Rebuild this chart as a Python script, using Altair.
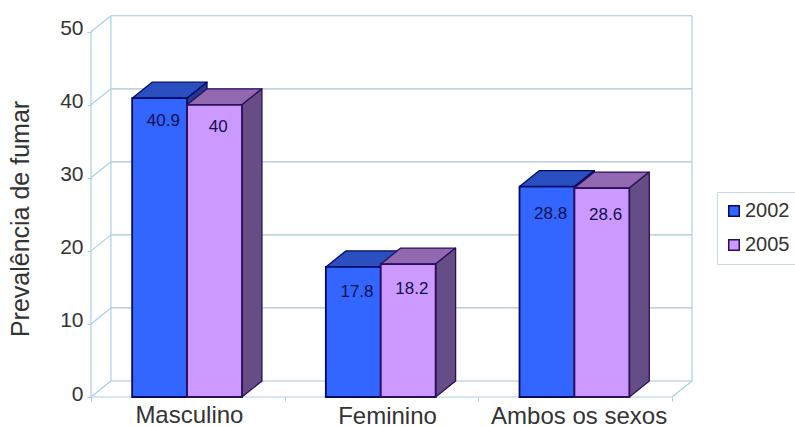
import altair as alt
import pandas as pd

# Values shown on the bars
categories = ["Masculino", "Feminino", "Ambos os sexos"]
series = ["2002", "2005"]
values_2002 = [40.9, 17.8, 28.8]
values_2005 = [40, 18.2, 28.6]
value_ticks = [0, 10, 20, 30, 40, 50]
value_title = "Prevalência de fumar"

FONT = "Liberation Sans"
TEXT = "#333333"
WALL = "#a9cfe6"
GRID = "#a8c4d4"

# Oblique projection: category units horizontally, value units vertically
BAR_W = 0.2835
DEPTH_X = 0.103
DEPTH_Y = 2.19
X_MAX = 3 + DEPTH_X
Y_MAX = 50 + DEPTH_Y + 0.1

FRONT = {"2002": "#3366ff", "2005": "#cc99ff"}
TOP = {"2002": "#2a4fc0", "2005": "#9268b0"}
SIDE = {"2002": "#26398c", "2005": "#664d85"}
EDGE = {"2002": "#000a66", "2005": "#2a0f5c"}

x_scale = alt.Scale(domain=[0, X_MAX], nice=False, zero=False)
y_scale = alt.Scale(domain=[0, Y_MAX], nice=False, zero=True)
X = alt.X("x:Q", scale=x_scale, title=None)
Y = alt.Y("y:Q", scale=y_scale, title=None)

# Tick-only axes; the category names are placed by a text layer
axes = (
    alt.Chart(pd.DataFrame({"x": [0], "y": [0]}))
    .mark_point(opacity=0)
    .encode(
        x=alt.X("x:Q", scale=x_scale, axis=alt.Axis(
            values=[0, 1, 2, 3], labels=False, title=None, domain=False, grid=False,
            tickSize=4, tickColor=WALL)),
        y=alt.Y("y:Q", scale=y_scale, axis=alt.Axis(
            values=value_ticks, title=None, domain=False, grid=False,
            tickSize=4, tickColor=WALL, labelFont=FONT, labelFontSize=21, labelColor=TEXT,
            labelPadding=4, labelOffset=-3)),
    )
)

# Rotated title of the value axis
axis_title = (
    alt.Chart(pd.DataFrame({"t": [value_title]}))
    .mark_text(font=FONT, fontSize=25, color=TEXT, angle=270, baseline="alphabetic", align="center")
    .encode(x=alt.value(-62), y=alt.value(204), text="t:N")
)

# Frame of the 3D box: wall lines, floor diagonals and axis lines
wall_rows = []
for v in value_ticks:
    wall_rows.append(dict(x=DEPTH_X, x2=X_MAX, y=v + DEPTH_Y, y2=v + DEPTH_Y, c="grid"))
    wall_rows.append(dict(x=0, x2=DEPTH_X, y=v, y2=v + DEPTH_Y, c="wall"))
wall_rows += [
    dict(x=0, x2=0, y=0, y2=50, c="wall"),
    dict(x=DEPTH_X, x2=DEPTH_X, y=DEPTH_Y, y2=50 + DEPTH_Y, c="wall"),
    dict(x=X_MAX, x2=X_MAX, y=DEPTH_Y, y2=50 + DEPTH_Y, c="wall"),
    dict(x=0, x2=3, y=0, y2=0, c="wall"),
    dict(x=3, x2=X_MAX, y=0, y2=DEPTH_Y, c="wall"),
]
walls = (
    alt.Chart(pd.DataFrame(wall_rows))
    .mark_rule(strokeWidth=1.2)
    .encode(
        X, alt.X2("x2:Q"), Y, alt.Y2("y2:Q"),
        color=alt.Color("c:N", scale=alt.Scale(domain=["grid", "wall"], range=[GRID, WALL]), legend=None),
    )
)


def bar_layers(name, values):
    """Top, side and front faces of one series."""
    offset = -BAR_W if name == "2002" else 0.0
    top_rows, side_rows, front_rows = [], [], []
    for i, v in enumerate(values):
        x0 = i + 0.5 + offset - 0.004
        x1 = x0 + BAR_W
        top_rows += [
            dict(k=i, x=x0, y=v, y2=v),
            dict(k=i, x=x0 + DEPTH_X, y=v, y2=v + DEPTH_Y),
            dict(k=i, x=x1, y=v, y2=v + DEPTH_Y),
            dict(k=i, x=x1 + DEPTH_X, y=v + DEPTH_Y, y2=v + DEPTH_Y),
        ]
        side_rows += [
            dict(k=i, x=x1, y=0, y2=v),
            dict(k=i, x=x1 + DEPTH_X, y=DEPTH_Y, y2=v + DEPTH_Y),
        ]
        front_rows.append(dict(x=x0, x2=x1, y=0, y2=v, series=name))

    def face(rows, fill):
        return (
            alt.Chart(pd.DataFrame(rows))
            .mark_area(orient="vertical", fill=fill, stroke=EDGE[name], strokeWidth=1.3, strokeJoin="round")
            .encode(X, Y, alt.Y2("y2:Q"), detail="k:N")
        )

    front = (
        alt.Chart(pd.DataFrame(front_rows))
        .mark_rect(strokeWidth=1.8)
        .encode(
            X, alt.X2("x2:Q"), Y, alt.Y2("y2:Q"),
            fill=alt.Fill(
                "series:N",
                scale=alt.Scale(domain=series, range=[FRONT[s] for s in series]),
                legend=alt.Legend(
                    title=None, orient="none", legendX=626, legendY=177,
                    symbolType="square", symbolSize=110, symbolStrokeColor="#101050",
                    symbolStrokeWidth=1.5, symbolOffset=-2, labelFont=FONT, labelFontSize=20,
                    labelColor=TEXT, fillColor="white", strokeColor="#c8d8e2", padding=9,
                    rowPadding=14, labelOffset=1,
                ),
            ),
            stroke=alt.Stroke(
                "series:N",
                scale=alt.Scale(domain=series, range=[EDGE[s] for s in series]),
                legend=None,
            ),
        )
    )
    return [face(top_rows, TOP[name]), face(side_rows, SIDE[name]), front]


# Value labels just below each front top edge
label_drop = [3.1, 3.4, 3.7]
label_rows = []
for i, (a, b) in enumerate(zip(values_2002, values_2005)):
    label_rows.append(dict(x=i + 0.5 - BAR_W / 2 + 0.015, y=a - label_drop[i], t=f"{a:g}"))
    label_rows.append(dict(x=i + 0.5 + BAR_W / 2 + 0.015, y=b - label_drop[i], t=f"{b:g}"))
value_labels = (
    alt.Chart(pd.DataFrame(label_rows))
    .mark_text(font=FONT, fontSize=17, color="#10104f", baseline="middle")
    .encode(X, Y, text="t:N")
)

# Category names under the floor
name_rows = [
    dict(x=0.508, t=categories[0], dy=18.5),
    dict(x=1.531, t=categories[1], dy=19.5),
    dict(x=2.52, t=categories[2], dy=19.5),
]
name_labels = alt.layer(*[
    alt.Chart(pd.DataFrame([row]))
    .mark_text(font=FONT, fontSize=24, color=TEXT, baseline="middle", dy=row["dy"])
    .encode(X, y=alt.Y("b:Q", scale=y_scale, title=None), text="t:N")
    .transform_calculate(b="0")
    for row in name_rows
])

chart = (
    alt.layer(axes, walls, *bar_layers("2002", values_2002), *bar_layers("2005", values_2005),
              value_labels, name_labels, axis_title)
    .resolve_scale(fill="shared", stroke="shared", color="independent")
    .properties(
        width=601,
        height=382,
        autosize=alt.AutoSizeParams(type="none"),
        padding={"left": 91, "top": 15, "right": 103, "bottom": 30},
    )
    .configure_view(stroke=None)
)

chart.save("out.html", embed_options={"renderer": "svg", "actions": False})
